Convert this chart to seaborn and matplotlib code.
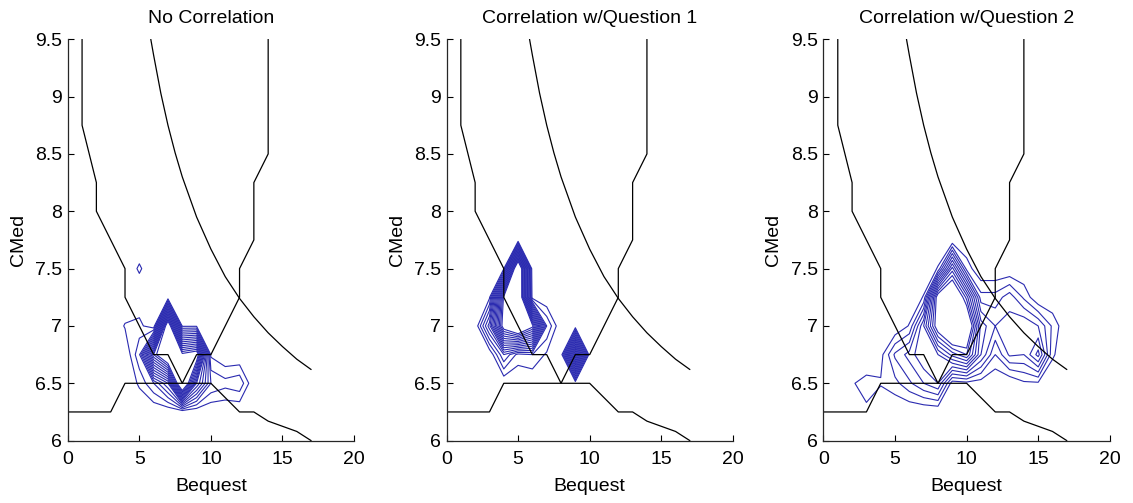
import matplotlib
matplotlib.use('Agg')
import matplotlib.pyplot as plt
import seaborn as sns
import numpy as np

# grid the survey densities were binned on
bequest_grid = [0, 1, 2, 3, 4, 5, 6, 7, 8, 9, 10, 11, 12, 13, 14, 15, 16, 17, 18, 19, 20]
cmed_grid = [6.0, 6.25, 6.5, 6.75, 7.0, 7.25, 7.5, 7.75, 8.0, 8.25, 8.5, 8.75, 9.0, 9.25, 9.5]

# densities, one row per cmed value from 6.0 up to 7.75 (rows above are empty)
#                 0  1  2    3    4    5    6    7    8    9   10  11  12  13  14  15  16 17 18 19 20
dens_no_corr = [
    [0, 0, 0, 0, 0, 0, 0, 0, 0, 0, 0, 0, 0, 0, 0, 0, 0, 0, 0, 0, 0],
    [0, 0, 0, 0, 0, 0, 0, 0, 0, 0, 0, 0, 0, 0, 0, 0, 0, 0, 0, 0, 0],
    [0, 0, 0, 0, 0, 6, 15, 30, 100, 40, 15, 12, 14, 0, 0, 0, 0, 0, 0, 0, 0],
    [0, 0, 0, 0, 0, 14, 70, 95, 78, 85, 4, 0, 0, 0, 0, 0, 0, 0, 0, 0, 0],
    [0, 0, 0, 0, 5.5, 7, 0, 90, 4, 4, 0, 0, 0, 0, 0, 0, 0, 0, 0, 0, 0],
    [0, 0, 0, 0, 0, 0, 0, 0, 0, 0, 0, 0, 0, 0, 0, 0, 0, 0, 0, 0, 0],
    [0, 0, 0, 0, 0, 6, 0, 0, 0, 0, 0, 0, 0, 0, 0, 0, 0, 0, 0, 0, 0],
    [0, 0, 0, 0, 0, 0, 0, 0, 0, 0, 0, 0, 0, 0, 0, 0, 0, 0, 0, 0, 0],
]
dens_corr_q1 = [
    [0, 0, 0, 0, 0, 0, 0, 0, 0, 0, 0, 0, 0, 0, 0, 0, 0, 0, 0, 0, 0],
    [0, 0, 0, 0, 0, 0, 0, 0, 0, 0, 0, 0, 0, 0, 0, 0, 0, 0, 0, 0, 0],
    [0, 0, 0, 0, 0, 0, 0, 0, 0, 0, 0, 0, 0, 0, 0, 0, 0, 0, 0, 0, 0],
    [0, 0, 0, 0, 20, 8, 10, 4, 0, 80, 0, 0, 0, 0, 0, 0, 0, 0, 0, 0, 0],
    [0, 0, 0, 28, 82, 100, 78, 15, 0, 0, 0, 0, 0, 0, 0, 0, 0, 0, 0, 0, 0],
    [0, 0, 0, 4, 77, 100, 2, 0, 0, 0, 0, 0, 0, 0, 0, 0, 0, 0, 0, 0, 0],
    [0, 0, 0, 0, 4.5, 100, 0, 0, 0, 0, 0, 0, 0, 0, 0, 0, 0, 0, 0, 0, 0],
    [0, 0, 0, 0, 0, 0, 0, 0, 0, 0, 0, 0, 0, 0, 0, 0, 0, 0, 0, 0, 0],
]
dens_corr_q2 = [
    [0, 0, 0, 0, 0, 0, 0, 0, 0, 0, 0, 0, 0, 0, 0, 0, 0, 0, 0, 0, 0],
    [0, 0, 0, 4, 0, 0, 0, 0, 0, 0, 0, 0, 0, 0, 0, 0, 0, 0, 0, 0, 0],
    [0, 0, 4.5, 7, 5.5, 8.3, 14, 20, 25, 2, 3, 2, 0, 0, 4, 4, 0, 0, 0, 0, 0],
    [0, 0, 0, 0, 3, 16, 22, 30, 30, 42, 50, 25, 10, 21, 20, 32, 6, 0, 0, 0, 0],
    [0, 0, 0, 0, 0, 0, 5.5, 30, 62, 80, 72, 28, 20, 22, 25, 20, 9, 0, 0, 0, 0],
    [0, 0, 0, 0, 0, 0, 0, 5.5, 62, 75, 48, 12, 12, 18, 9, 0, 0, 0, 0, 0, 0],
    [0, 0, 0, 0, 0, 0, 0, 0, 5.5, 42, 8, 0, 0, 0, 0, 0, 0, 0, 0, 0, 0],
    [0, 0, 0, 0, 0, 0, 0, 0, 0, 0, 0, 0, 0, 0, 0, 0, 0, 0, 0, 0, 0],
]

# boundary lines (same on every panel)
upper_x = [1, 1, 2, 2, 4, 4, 6, 7, 8, 9, 10, 12, 12, 13, 13, 14, 14]
upper_y = [9.5, 8.75, 8.25, 8.0, 7.5, 7.25, 6.75, 6.75, 6.5, 6.75, 6.75, 7.25, 7.5, 7.75, 8.25, 8.5, 9.5]
lower_x = [0, 3, 4, 10, 12, 13, 14, 16, 17]
lower_y = [6.25, 6.25, 6.5, 6.5, 6.25, 6.25, 6.17, 6.08, 6.0]
curve_x = [5.8, 6, 6.5, 7, 7.5, 8, 9, 10, 11, 12, 13, 14, 15, 16, 17]
curve_y = [9.5, 9.36, 9.03, 8.75, 8.51, 8.3, 7.95, 7.67, 7.43, 7.24, 7.08, 6.94, 6.82, 6.71, 6.62]

titles = ['No Correlation', 'Correlation w/Question 1', 'Correlation w/Question 2']
panels = [dens_no_corr, dens_corr_q1, dens_corr_q2]
level_counts = [15, 15, 11]

sns.set_style('ticks')
plt.rcParams['font.family'] = ['Liberation Sans', 'DejaVu Sans']
plt.rcParams['xtick.direction'] = 'in'
plt.rcParams['ytick.direction'] = 'in'
plt.rcParams['text.color'] = 'black'
plt.rcParams['axes.labelcolor'] = 'black'
plt.rcParams['xtick.color'] = 'black'
plt.rcParams['ytick.color'] = 'black'

fig = plt.figure(figsize=(11.33, 5.03), dpi=100)
lefts = [0.0598, 0.3941, 0.7268]
BLUE = '#2a2ab0'

X, Y = np.meshgrid(bequest_grid, cmed_grid)
for i in range(3):
    ax = fig.add_axes([lefts[i], 0.124, 0.2527, 0.798])
    rows = np.array(panels[i], dtype=float)
    Z = np.zeros((len(cmed_grid), len(bequest_grid)))
    Z[:rows.shape[0], :] = rows
    levels = [5 * k for k in range(1, level_counts[i] + 1)]
    ax.contour(X, Y, Z, levels=levels, colors=BLUE, linewidths=0.8)

    for xs, ys in [(upper_x, upper_y), (lower_x, lower_y), (curve_x, curve_y)]:
        sns.lineplot(x=xs, y=ys, ax=ax, color='black', linewidth=0.9,
                     sort=False, estimator=None)

    ax.set_xlim(0, 20)
    ax.set_ylim(6, 9.5)
    ax.set_xticks([0, 5, 10, 15, 20])
    ax.set_yticks([6, 6.5, 7, 7.5, 8, 8.5, 9, 9.5])
    ax.set_yticklabels(['6', '6.5', '7', '7.5', '8', '8.5', '9', '9.5'])
    ax.tick_params(labelsize=14, length=4, width=0.8)
    ax.tick_params(axis='x', pad=7.5)
    ax.tick_params(axis='y', pad=4)
    for s in ['top', 'right']:
        ax.spines[s].set_visible(False)
    for s in ['left', 'bottom']:
        ax.spines[s].set_color('#262626')
        ax.spines[s].set_linewidth(0.9)
    ax.set_xlabel('Bequest', fontsize=14, labelpad=7)
    ax.set_ylabel('CMed', fontsize=14, labelpad=6)
    ax.set_title(titles[i], fontsize=14, pad=12)

fig.savefig('out.png', dpi=100)
